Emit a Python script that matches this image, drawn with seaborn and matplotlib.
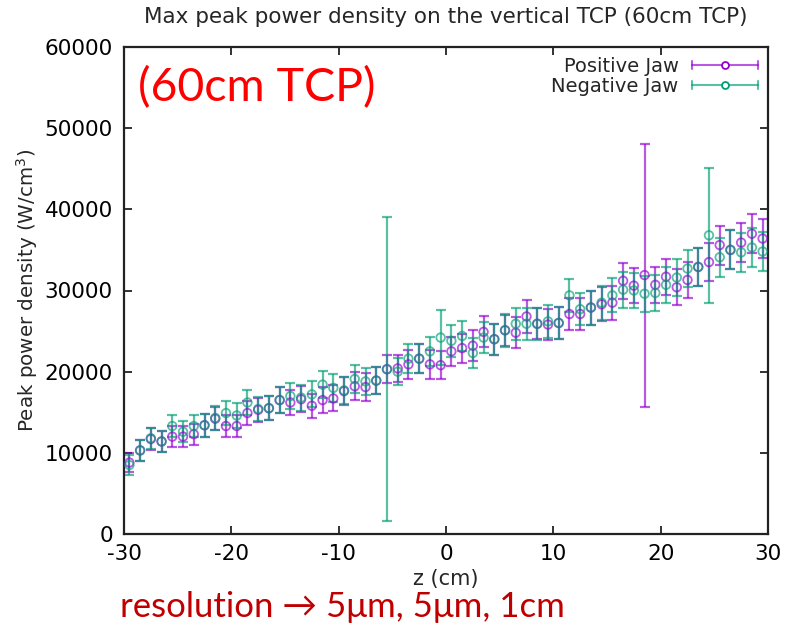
import numpy as np
import pandas as pd
import matplotlib
matplotlib.use("Agg")
import matplotlib.pyplot as plt
from matplotlib.lines import Line2D
from matplotlib.legend_handler import HandlerBase
import seaborn as sns

# ---------------- data ----------------
z_cm = [-29.5, -28.5, -27.5, -26.5, -25.5, -24.5, -23.5, -22.5, -21.5, -20.5,
        -19.5, -18.5, -17.5, -16.5, -15.5, -14.5, -13.5, -12.5, -11.5, -10.5,
        -9.5, -8.5, -7.5, -6.5, -5.5, -4.5, -3.5, -2.5, -1.5, -0.5,
        0.5, 1.5, 2.5, 3.5, 4.5, 5.5, 6.5, 7.5, 8.5, 9.5,
        10.5, 11.5, 12.5, 13.5, 14.5, 15.5, 16.5, 17.5, 18.5, 19.5,
        20.5, 21.5, 22.5, 23.5, 24.5, 25.5, 26.5, 27.5, 28.5, 29.5]

positive_jaw = [8800, 10300, 11700, 11400, 12000, 12000, 12300, 13400, 14200, 13300,
                13300, 14900, 15300, 15500, 16500, 16200, 16600, 15800, 16500, 16700,
                17600, 18200, 18100, 18900, 20300, 20400, 20900, 21600, 20900, 20800,
                22500, 22900, 23200, 24900, 24000, 25100, 24800, 26800, 25900, 25800,
                26000, 27100, 27100, 27900, 28300, 28500, 31200, 30600, 31900, 30700,
                31700, 30400, 31300, 32900, 33500, 35600, 35000, 35900, 37000, 36400]

positive_err = [1200, 1300, 1300, 1300, 1300, 1300, 1300, 1400, 1400, 1400,
                1400, 1500, 1500, 1500, 1600, 1500, 1600, 1500, 1600, 1600,
                1700, 1700, 1700, 1700, 1700, 1700, 1800, 1800, 1800, 1700,
                1800, 1800, 1900, 1900, 1900, 1900, 1900, 2000, 1900, 1900,
                2000, 2000, 2000, 2100, 2100, 2100, 2200, 2200, 16200, 2200,
                2200, 2200, 2200, 2300, 2300, 2400, 2400, 2400, 2400, 2400]

negative_jaw = [8500, 10300, 11800, 11400, 13300, 12600, 13300, 13400, 14300, 14900,
                14600, 16200, 15400, 15500, 16500, 17000, 16800, 17200, 18400, 18000,
                17700, 19100, 18800, 18900, 20300, 20000, 21600, 21600, 22500, 24200,
                23800, 24400, 22300, 24200, 24000, 25100, 25900, 25900, 25900, 26200,
                26000, 29400, 27700, 27900, 28500, 29400, 30100, 30000, 29600, 29700,
                30700, 31600, 32700, 32900, 36800, 34100, 35000, 34700, 35300, 34800]

negative_err = [1200, 1300, 1300, 1300, 1400, 1300, 1400, 1400, 1500, 1500,
                1500, 1600, 1500, 1500, 1600, 1600, 1600, 1600, 1700, 1700,
                1700, 1700, 1700, 1700, 18700, 1700, 1800, 1800, 1800, 3400,
                2000, 1900, 1900, 1900, 1900, 2000, 2000, 2000, 2000, 2000,
                2000, 2000, 2000, 2100, 2100, 2100, 2200, 2200, 2200, 2200,
                2200, 2300, 2300, 2300, 8300, 2400, 2400, 2400, 2400, 2400]

series_names = ["Positive Jaw", "Negative Jaw"]
series_colors = ["#9400D3", "#009E73"]

df = pd.DataFrame({
    "z": z_cm * 2,
    "power": positive_jaw + negative_jaw,
    "err": positive_err + negative_err,
    "series": [series_names[0]] * len(z_cm) + [series_names[1]] * len(z_cm),
})

# ---------------- style ----------------
sns.set_theme(style="ticks")
plt.rcParams["font.family"] = ["DejaVu Sans"]
plt.rcParams["axes.unicode_minus"] = False

fig = plt.figure(figsize=(7.9, 6.29), dpi=100)
ax = fig.add_axes([124 / 790, 1 - 534 / 629, (768 - 124) / 790, (534 - 47) / 629])

alpha = 0.65
for name, col in zip(series_names, series_colors):
    sub = df[df["series"] == name]
    ax.errorbar(sub["z"], sub["power"], yerr=sub["err"], fmt="none",
                ecolor=col, elinewidth=1.6, capsize=3.5, capthick=1.6,
                alpha=alpha, zorder=2)
    sns.scatterplot(data=sub, x="z", y="power", ax=ax, marker="o",
                    facecolor="none", edgecolor=col, linewidth=1.3, s=38,
                    alpha=alpha, legend=False, zorder=3)

ax.set_xlim(-30, 30)
ax.set_ylim(0, 60000)
ax.set_xticks([-30, -20, -10, 0, 10, 20, 30])
ax.set_yticks([0, 10000, 20000, 30000, 40000, 50000, 60000])
ax.tick_params(direction="in", top=True, right=True, length=6, width=1.3,
               labelsize=15.5, colors="#222222", labelcolor="black")
ax.tick_params(axis="x", pad=7)
ax.tick_params(axis="y", pad=8)
for sp in ax.spines.values():
    sp.set_linewidth(1.6)
    sp.set_color("#222222")

ax.set_xlabel("z (cm)", fontsize=15, labelpad=4)
ax.set_ylabel("Peak power density (W/cm$^3$)", fontsize=14.3, labelpad=3)
ax.set_title("Max peak power density on the vertical TCP (60cm TCP)",
             fontsize=15.5, pad=17)


# ---------------- gnuplot-like legend ----------------
class ErrHandler(HandlerBase):
    def create_artists(self, legend, orig_handle, xdescent, ydescent,
                       width, height, fontsize, trans):
        c = orig_handle.get_color()
        x0, x1 = -xdescent, width - xdescent
        y = (height - ydescent) / 2
        h = height * 0.3
        arts = [
            Line2D([x0, x1], [y, y], color=c, lw=1.5, alpha=alpha),
            Line2D([x0, x0], [y - h, y + h], color=c, lw=1.5, alpha=alpha),
            Line2D([x1, x1], [y - h, y + h], color=c, lw=1.5, alpha=alpha),
            Line2D([(x0 + x1) / 2], [y], marker="o", ms=5, mfc="white",
                   mec=c, mew=1.3, ls="none", alpha=1.0),
        ]
        for a in arts:
            a.set_transform(trans)
        return arts


handles = [Line2D([], [], color=c, label=n) for n, c in zip(series_names, series_colors)]
ax.legend(handles=handles, handler_map={Line2D: ErrHandler()}, loc="upper right",
          frameon=False, markerfirst=False, fontsize=14, handlelength=3.4,
          labelspacing=0.05, borderaxespad=0.2, borderpad=0.3, handletextpad=0.7)

# ---------------- annotations ----------------
fig.text(138 / 790, 1 - 88 / 629, "(60cm TCP)", color="#FF0000", fontsize=33.5,
         family=["Lato", "DejaVu Sans"], va="center", ha="left")
fig.text(120 / 790, 1 - 607 / 629, "resolution \u2192 5\u03bcm, 5\u03bcm, 1cm",
         color="#C00000", fontsize=25, family=["Lato", "DejaVu Sans"],
         va="center", ha="left")

fig.savefig("out.png", dpi=100)
